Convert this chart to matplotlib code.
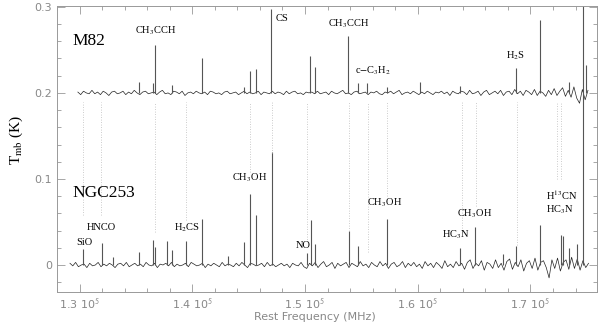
import matplotlib
matplotlib.use("Agg")
import matplotlib.pyplot as plt
import numpy as np
from matplotlib.ticker import MultipleLocator, FixedLocator

plt.rcParams["mathtext.fontset"] = "stix"

# baseline noise (mK), sampled every 250 MHz
M82_START, NGC_START, STEP = 129850.0, 129150.0, 250.0
m82_noise = [
    1, -2, 2, 0, -1, 3, -1, 1, -2, 2, 0, -3, 1, 2,
    -1, 0, 2, -2, 1, -1, 3, 0, -2, 1, 2, -1, 0, 1,
    -2, 1, 3, -1, 0, -2, 2, 1, -1, 2, -3, 0, 1, -1,
    2, 0, -1, 1, -2, 2, 1, -1, 0, -2, 1, 2, -1, 0,
    1, -2, 0, 2, -1, 1, -1, 0, 2, -2, 1, 0, -1, 2,
    -1, 1, 0, -2, 2, -1, 1, 2, -1, 0, -2, 1, 0, 1,
    -1, 2, -1, 0, 1, -2, 2, 0, -1, 1, 3, -1, 0, -2,
    1, 2, -1, 0, 1, -2, 1, 0, 2, -1, -2, 1, 0, 2,
    -1, 1, 3, -2, 0, 1, -1, 2, 0, -2, 1, -1, 2, 0,
    -2, 1, 0, 2, -1, 1, -3, 2, 0, -1, 2, 1, -2, 3,
    -1, 0, 2, -3, 1, 3, -2, 0, 2, -1, 3, -3, 1, 2,
    -2, 4, -1, 2, -3, 3, 1, -2, 4, -3, 2, 0, -4, 3,
    -2, 5, -3, 2, 6, -4, 3, -5, 7, -6, -12, 4, -8, 3,
]
ngc_noise = [
    2, -1, 3, -2, 0, 1, -3, 2, -1, 0, 3, -2, 1, -1,
    2, 0, -3, 1, 2, -1, 3, -2, 0, 2, -1, 1, -2, 3,
    0, -1, 2, -3, 1, 0, 2, -1, 3, -2, 1, -1, 0, 2,
    -2, 3, 1, -1, 0, 2, -3, 1, -1, 2, 0, -2, 3, -1,
    1, 0, -2, 2, -1, 3, 0, -3, 2, 1, -1, 0, 2, -2,
    3, -1, 1, -2, 0, 2, -1, 1, -3, 2, 0, -1, 3, -2,
    -4, 2, -1, 3, -3, 1, 4, -2, 0, 3, -4, 2, -1, 1,
    3, -3, 2, 0, -2, 4, -1, 1, -3, 3, 0, -2, 4, -1,
    2, -4, 1, 3, -2, 0, 4, -3, 2, -1, 3, -2, 1, -4,
    4, -1, 2, -3, 3, 0, -4, 5, -2, 1, -3, 4, -1, 2,
    -5, 3, 6, -4, 2, -1, 5, -6, 3, 1, -4, 6, -3, 2,
    -6, 4, 7, -5, 3, -2, 6, -7, 2, 5, -4, 8, -6, 3,
    5, -3, -15, 6, -4, 8, -7, 3, 6, -5, 9, -4, 7, -6,
    5, -3, 2,
]

# emission lines: rest frequency (MHz) and peak (K)
m82_freq = [135290, 136500, 136730, 138180, 140840, 144590, 145120, 145620,
            146980, 150430, 150850, 153800, 154660, 155510, 157280, 160180,
            163720, 168740, 170870, 173460, 174880]
m82_peak = [0.013, 0.012, 0.056, 0.009, 0.040, 0.007, 0.025, 0.028,
            0.098, 0.043, 0.030, 0.066, 0.012, 0.012, 0.007, 0.013,
            0.008, 0.029, 0.085, 0.013, 0.033]
ngc_freq = [130300, 131950, 132960, 135310, 136500, 136730, 137740, 138240,
            139480, 140840, 143140, 144610, 145120, 145620, 147040, 150140,
            150520, 150880, 153890, 154710, 157280, 163780, 165050, 167550,
            168740, 170870, 172730, 172870, 173460, 174110, 174640]
ngc_peak = [0.019, 0.026, 0.009, 0.015, 0.029, 0.021, 0.028, 0.017,
            0.028, 0.054, 0.010, 0.027, 0.083, 0.058, 0.131, 0.014,
            0.052, 0.024, 0.040, 0.022, 0.054, 0.020, 0.044, 0.013,
            0.022, 0.046, 0.035, 0.034, 0.020, 0.024, 0.400]

# dotted line markers
mark_freq = [130270, 131920, 136700, 139450, 145120, 147070, 150170, 153890,
             155570, 157250, 163890, 165130, 168760, 172390, 172750]
mark_low = [0.058, 0.058, 0.038, 0.052, 0.108, 0.130, 0.027, 0.040,
            0.015, 0.080, 0.043, 0.068, 0.023, 0.100, 0.100]

# line labels
lab_text = ["CH$_3$CCH", "CS", "CH$_3$CCH", "c$-$C$_3$H$_2$", "H$_2$S",
            "SiO", "HNCO", "H$_2$CS", "CH$_3$OH", "NO", "CH$_3$OH",
            "HC$_3$N", "CH$_3$OH", "H$^{13}$CN", "HC$_3$N"]
lab_x = [136750, 147950, 153930, 156010, 168680,
         130420, 131920, 139540, 145070, 149810, 157080,
         163370, 165050, 172750, 172580]
lab_y = [0.272, 0.286, 0.280, 0.2256, 0.243,
         0.0267, 0.043, 0.043, 0.101, 0.023, 0.072,
         0.035, 0.060, 0.081, 0.064]

sources = ["M82", "NGC253"]
offsets = [0.2, 0.0]


def main() -> None:
    fig = plt.figure(figsize=(6.0, 3.25), dpi=100)
    ax = fig.add_axes([0.095, 0.1015, 0.9, 0.88])
    grey = "#999999"

    spectra = [(M82_START, m82_noise, m82_freq, m82_peak),
               (NGC_START, ngc_noise, ngc_freq, ngc_peak)]
    for (start, noise, lf, lp), off in zip(spectra, offsets):
        f = start + STEP * np.arange(len(noise))
        ax.plot(f, off + np.array(noise) / 1000.0, color="#222222", lw=0.5)
        ax.vlines(lf, off, off + np.array(lp), color="#555555", lw=0.8)

    ax.vlines(mark_freq, mark_low, 0.19, color="#bbbbbb", lw=0.6,
              linestyles=(0, (1, 2)))

    for t, x, y in zip(lab_text, lab_x, lab_y):
        ax.text(x, y, t, ha="center", va="center", fontsize=7.5,
                family="Liberation Serif")
    ax.text(129350, 0.26, sources[0], ha="left", va="center", fontsize=12.5,
            family="Liberation Serif")
    ax.text(129350, 0.0837, sources[1], ha="left", va="center", fontsize=12.5,
            family="Liberation Serif")

    ax.set_xlim(128000, 175900)
    ax.set_ylim(-0.0314, 0.301)
    ax.xaxis.set_major_locator(FixedLocator([130000, 140000, 150000, 160000, 170000]))
    ax.xaxis.set_minor_locator(MultipleLocator(2000))
    ax.set_xticklabels(["%.1f 10$^{\\mathsf{5}}$" % (v / 1e5)
                        for v in [130000, 140000, 150000, 160000, 170000]])
    ax.yaxis.set_major_locator(FixedLocator([0, 0.1, 0.2, 0.3]))
    ax.yaxis.set_minor_locator(MultipleLocator(0.02))
    ax.set_yticklabels(["0", "0.1", "0.2", "0.3"])

    ax.tick_params(which="both", direction="in", top=True, right=True,
                   color=grey, labelcolor="#888888", labelsize=8, width=0.6)
    ax.tick_params(which="major", length=5.5, pad=3.5)
    ax.tick_params(which="minor", length=3)
    for s in ax.spines.values():
        s.set_color(grey)
        s.set_linewidth(0.7)

    fig.text(0.027, 0.57, "T$_{\\rm mb}$ (K)", rotation=90, ha="center",
             va="center", fontsize=11, family="Liberation Serif")
    fig.text(0.525, 0.026, "Rest Frequency (MHz)", ha="center", va="center",
             fontsize=8, color="#888888")

    fig.savefig("out.png", dpi=100)


if __name__ == "__main__":
    main()
